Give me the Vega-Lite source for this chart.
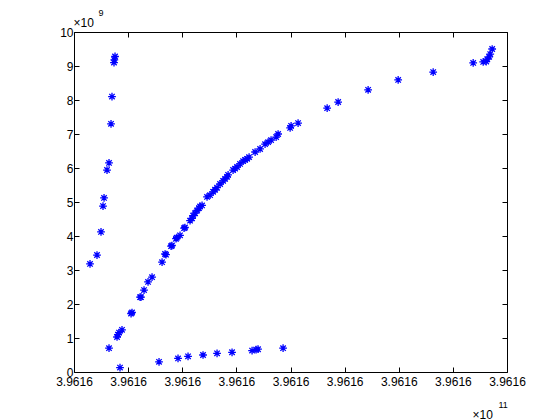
{
  "$schema": "https://vega.github.io/schema/vega-lite/v6.json",
  "width": 433,
  "height": 340,
  "autosize": {"type": "none"},
  "padding": {"left": 74, "top": 32, "right": 53, "bottom": 48},
  "background": "white",
  "config": {
    "view": {"stroke": null},
    "font": "Liberation Sans",
    "axis": {
      "domainColor": "black",
      "tickColor": "black",
      "labelColor": "black",
      "titleColor": "black",
      "labelFontSize": 12,
      "titleFontSize": 12,
      "titleFontWeight": "normal",
      "grid": false,
      "tickSize": -5,
      "labelFlush": false,
      "labelOverlap": false
    }
  },
  "data": {
    "values": [
      {"x": 0.296, "y": 3.18}, {"x": 0.425, "y": 3.44}, {"x": 0.499, "y": 4.12}, {"x": 0.536, "y": 4.88},
      {"x": 0.555, "y": 5.12}, {"x": 0.61, "y": 5.94}, {"x": 0.647, "y": 6.15}, {"x": 0.684, "y": 7.3},
      {"x": 0.702, "y": 8.1}, {"x": 0.739, "y": 9.1}, {"x": 0.745, "y": 9.18}, {"x": 0.758, "y": 9.28},
      {"x": 0.647, "y": 0.7}, {"x": 0.85, "y": 0.13},
      {"x": 0.795, "y": 1.03}, {"x": 0.813, "y": 1.1}, {"x": 0.832, "y": 1.16}, {"x": 0.887, "y": 1.24},
      {"x": 1.054, "y": 1.72}, {"x": 1.072, "y": 1.75}, {"x": 1.22, "y": 2.2}, {"x": 1.238, "y": 2.2},
      {"x": 1.294, "y": 2.41}, {"x": 1.368, "y": 2.65}, {"x": 1.442, "y": 2.79}, {"x": 1.627, "y": 3.23},
      {"x": 1.682, "y": 3.47}, {"x": 1.7, "y": 3.45}, {"x": 1.793, "y": 3.7}, {"x": 1.81, "y": 3.72},
      {"x": 1.885, "y": 3.92}, {"x": 1.9, "y": 3.95}, {"x": 1.959, "y": 4.02}, {"x": 2.033, "y": 4.23},
      {"x": 2.05, "y": 4.25}, {"x": 2.144, "y": 4.45}, {"x": 2.181, "y": 4.52}, {"x": 2.2, "y": 4.6},
      {"x": 2.237, "y": 4.67}, {"x": 2.274, "y": 4.75}, {"x": 2.31, "y": 4.82}, {"x": 2.329, "y": 4.87},
      {"x": 2.366, "y": 4.9}, {"x": 2.458, "y": 5.15}, {"x": 2.514, "y": 5.2}, {"x": 2.569, "y": 5.3},
      {"x": 2.606, "y": 5.36}, {"x": 2.643, "y": 5.42}, {"x": 2.699, "y": 5.53}, {"x": 2.754, "y": 5.62},
      {"x": 2.791, "y": 5.68}, {"x": 2.828, "y": 5.74}, {"x": 2.847, "y": 5.8}, {"x": 2.939, "y": 5.94},
      {"x": 2.976, "y": 5.98}, {"x": 3.013, "y": 6.03}, {"x": 3.068, "y": 6.12}, {"x": 3.124, "y": 6.2},
      {"x": 3.161, "y": 6.24}, {"x": 3.198, "y": 6.27}, {"x": 3.235, "y": 6.32}, {"x": 3.346, "y": 6.47},
      {"x": 3.438, "y": 6.56}, {"x": 3.53, "y": 6.7}, {"x": 3.586, "y": 6.76}, {"x": 3.641, "y": 6.82},
      {"x": 3.734, "y": 6.91}, {"x": 3.771, "y": 7.0}, {"x": 3.993, "y": 7.18}, {"x": 4.011, "y": 7.24},
      {"x": 4.14, "y": 7.32}, {"x": 4.677, "y": 7.76}, {"x": 4.88, "y": 7.94}, {"x": 5.434, "y": 8.3},
      {"x": 5.989, "y": 8.59}, {"x": 6.636, "y": 8.82}, {"x": 7.375, "y": 9.09}, {"x": 7.56, "y": 9.12},
      {"x": 7.616, "y": 9.13}, {"x": 7.634, "y": 9.2}, {"x": 7.671, "y": 9.27}, {"x": 7.69, "y": 9.35},
      {"x": 7.726, "y": 9.5},
      {"x": 1.571, "y": 0.3}, {"x": 1.922, "y": 0.4}, {"x": 2.107, "y": 0.46}, {"x": 2.384, "y": 0.5},
      {"x": 2.643, "y": 0.55}, {"x": 2.92, "y": 0.58}, {"x": 3.29, "y": 0.63}, {"x": 3.364, "y": 0.66},
      {"x": 3.4, "y": 0.67}, {"x": 3.863, "y": 0.7}
    ]
  },
  "layer": [
    {
      "mark": {
        "type": "point",
        "shape": "M0,-1L0,1M-1,0L1,0M-0.7,-0.7L0.7,0.7M-0.7,0.7L0.7,-0.7",
        "filled": false,
        "stroke": "#0000ff",
        "strokeWidth": 1.3,
        "size": 60,
        "opacity": 1
      },
      "encoding": {
        "x": {
          "field": "x", "type": "quantitative",
          "scale": {"domain": [0, 8], "nice": false, "zero": false},
          "axis": {
            "orient": "bottom",
            "values": [0, 1, 2, 3, 4, 5, 6, 7, 8],
            "labelExpr": "'3.9616'",
            "labelPadding": 9,
            "title": "×10",
            "titleX": 398, "titleY": 46,
            "titleAlign": "left", "titleBaseline": "alphabetic", "titleAnchor": "start"
          }
        },
        "y": {
          "field": "y", "type": "quantitative",
          "scale": {"domain": [0, 10], "nice": false, "zero": false},
          "axis": {
            "orient": "left",
            "values": [0, 1, 2, 3, 4, 5, 6, 7, 8, 9, 10],
            "labelPadding": 6,
            "title": "×10",
            "titleAngle": 0,
            "titleX": -1, "titleY": -6,
            "titleAlign": "left", "titleBaseline": "alphabetic", "titleAnchor": "start"
          }
        }
      }
    },
    {
      "mark": {"type": "point", "opacity": 0},
      "encoding": {
        "x": {
          "field": "x", "type": "quantitative",
          "scale": {"domain": [0, 8], "nice": false, "zero": false},
          "axis": {
            "orient": "top",
            "values": [0, 1, 2, 3, 4, 5, 6, 7, 8],
            "labels": false,
            "title": "11",
            "titleFontSize": 9,
            "titleX": 424, "titleY": 375,
            "titleAlign": "left", "titleBaseline": "alphabetic", "titleAnchor": "start"
          }
        },
        "y": {
          "field": "y", "type": "quantitative",
          "scale": {"domain": [0, 10], "nice": false, "zero": false},
          "axis": {
            "orient": "right",
            "values": [0, 1, 2, 3, 4, 5, 6, 7, 8, 9, 10],
            "labels": false,
            "title": "9",
            "titleFontSize": 9,
            "titleAngle": 0,
            "titleX": -409, "titleY": -17,
            "titleAlign": "left", "titleBaseline": "alphabetic", "titleAnchor": "start"
          }
        }
      }
    }
  ],
  "resolve": {"axis": {"x": "independent", "y": "independent"}}
}
